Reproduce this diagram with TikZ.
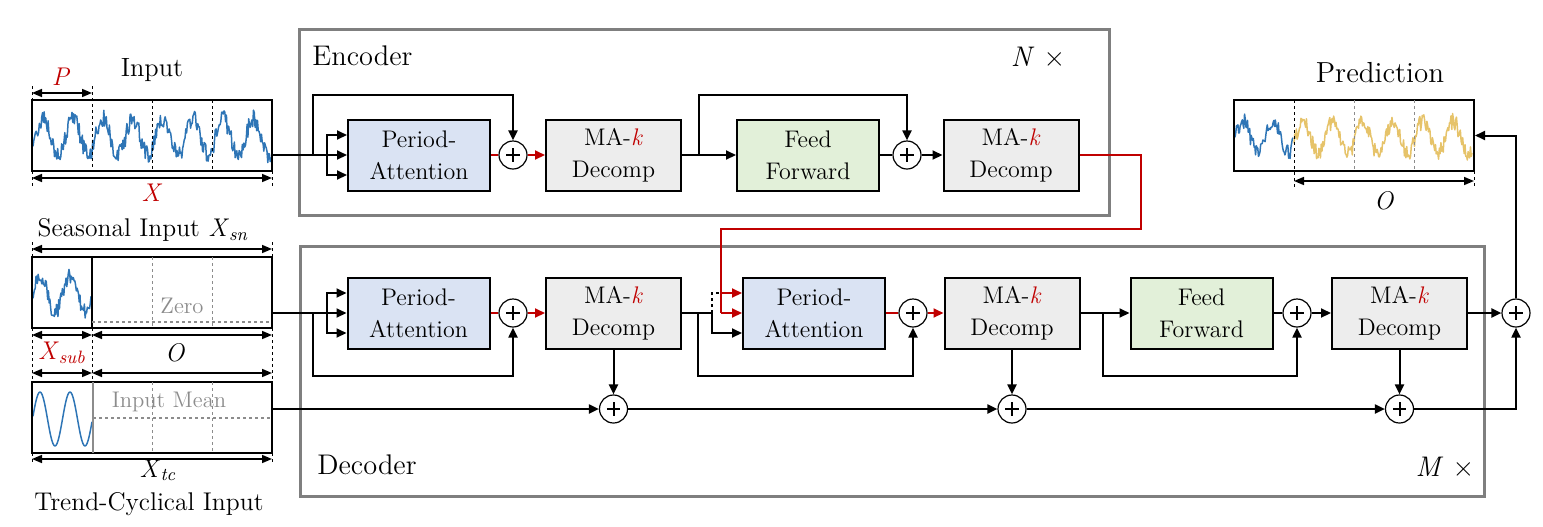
\documentclass[tikz,border=0pt]{standalone}
\usepackage{fontspec}
\usetikzlibrary{arrows.meta,calc}
\definecolor{myred}{HTML}{C00000}
\definecolor{pafill}{HTML}{DAE3F3}
\definecolor{mafill}{HTML}{EDEDED}
\definecolor{fffill}{HTML}{E2F0D9}
\definecolor{framegray}{HTML}{7F7F7F}
\definecolor{wblue}{HTML}{2E75B6}
\definecolor{wyellow}{HTML}{E6C36A}
\definecolor{txtgray}{HTML}{8C8C8C}
\begin{document}
\begin{tikzpicture}[x=0.5pt,y=-0.5pt,
  every node/.style={font=\rmfamily},
  >={Triangle[length=5pt,width=4.5pt]},
  conn/.style={line width=1pt},
  rconn/.style={line width=1pt, draw=myred, fill=myred},
  blk/.style={draw, line width=1pt, minimum height=35.5pt, align=center, inner sep=0pt, font=\rmfamily\fontsize{12}{16}\selectfont},
  pabox/.style={blk, fill=pafill, minimum width=71pt},
  mabox/.style={blk, fill=mafill, minimum width=67.5pt},
  ffbox/.style={blk, fill=fffill, minimum width=71pt},
  plus/.style={circle, draw, line width=0.6pt, fill=white, minimum size=14pt, inner sep=0pt,
    path picture={\draw[line width=1pt] ([xshift=-3.3pt]path picture bounding box.center) -- ([xshift=3.3pt]path picture bounding box.center);
                  \draw[line width=1pt] ([yshift=-3.3pt]path picture bounding box.center) -- ([yshift=3.3pt]path picture bounding box.center);}},
  frame/.style={draw=framegray, line width=1.5pt},
  series/.style={draw, line width=1pt, minimum width=120pt, minimum height=35.5pt, inner sep=0pt},
  dimarr/.style={{Triangle[length=5pt,width=4pt]}-{Triangle[length=5pt,width=4pt]}, line width=0.8pt},
  tick/.style={line width=0.5pt, dash pattern=on 1.5pt off 1.5pt},
  gtick/.style={tick, draw=txtgray},
  wave/.style={line width=0.75pt, draw=wblue, line join=round},
  lbl/.style={font=\rmfamily\fontsize{12.8}{15}\selectfont, inner sep=0pt},
  big/.style={font=\rmfamily\fontsize{14.2}{17}\selectfont, inner sep=0pt},
  glbl/.style={font=\rmfamily\fontsize{11.3}{13}\selectfont, text=txtgray, inner sep=0pt},
]
\useasboundingbox (0,0) rectangle (1543,526);

% frames
\draw[frame] (299,29) rectangle (1109,215);
\draw[frame] (300,246) rectangle (1484,496);
\node[big, anchor=west] (enctxt) at (312,56) {Encoder};
\node[big] (ntxt) at (1038,57) {\textit{N} ×};
\node[big, anchor=west] (dectxt) at (317,465) {Decoder};
\node[big] (mtxt) at (1445,467) {\textit{M} ×};

% waves
\pgfmathsetseed{11}
\draw[wave] plot[domain=33:271,samples=300] (\x,{137-18*cos(12*(\x-43))+9*rand});
\draw[wave] plot[domain=33:91,samples=80] (\x,{294-18*cos(12*(\x-40))+8*rand});
\draw[wave] plot[domain=1235:1293,samples=80] (\x,{137-16*cos(12*(\x-1243))+8*rand});
\draw[wave, draw=wyellow] plot[domain=1294:1472,samples=230] (\x,{137-16*cos(12*(\x-1243))+8*rand});
\draw[wave] plot[domain=33:92,samples=60,smooth] (\x,{419-27*cos(12*(\x-40))});

% series boxes
\node[series] (inbox) at (152,135.5) {};
\node[series] (sbox) at (152,292.5) {};
\node[series] (tbox) at (152,417.5) {};
\node[series] (pbox) at (1354,135.5) {};

% input annotations
\node[lbl, font=\rmfamily\fontsize{13.2}{16}\selectfont] (intxt) at (152,70) {Input};
\node[lbl, text=myred] (ptxt) at (61,77) {\textit{P}};
\draw[tick] (32,86) -- (32,100);
\draw[tick] (32,171) -- (32,186);
\draw[tick] (92,86) -- (92,171);
\draw[tick] (152,100) -- (152,171);
\draw[tick] (212,100) -- (212,171);
\draw[tick] (272,171) -- (272,186);
\draw[dimarr] (32,93) -- (92,93);
\draw[dimarr] (32,178) -- (272,178);
\node[lbl, text=myred] (xtxt) at (152,193) {\textit{X}};

% seasonal
\node[lbl] (stxt) at (143,230) {Seasonal Input \textit{X}\textsubscript{\textit{sn}}};
\draw[tick] (32,242) -- (32,257);
\draw[tick] (272,242) -- (272,257);
\draw[dimarr] (32,249) -- (272,249);
\draw[line width=0.6pt] (92,257) -- (92,328);
\draw[gtick] (152,257) -- (152,328);
\draw[gtick] (212,257) -- (212,328);
\draw[gtick, line width=0.6pt] (92,322) -- (271,322);
\node[glbl] (zero) at (182,306) {Zero};

% middle dims
\draw[tick] (32,328) -- (32,382);
\draw[tick] (92,328) -- (92,382);
\draw[tick] (272,328) -- (272,382);
\draw[dimarr] (32,335) -- (92,335);
\draw[dimarr] (92,335) -- (272,335);
\draw[dimarr] (32,373) -- (92,373);
\draw[dimarr] (92,373) -- (272,373);
\node[lbl, text=myred] (xsub) at (62,353) {\textit{X}\textsubscript{\textit{sub}}};
\node[lbl] (otxt) at (175,353) {\textit{O}};

% trend
\draw[line width=0.6pt, txtgray] (93,382) -- (93,453);
\draw[gtick] (152,382) -- (152,453);
\draw[gtick] (212,382) -- (212,453);
\draw[gtick, line width=0.6pt] (93,418) -- (271,418);
\node[glbl] (mean) at (169,402) {Input Mean};
\draw[tick] (32,453) -- (32,465);
\draw[tick] (272,453) -- (272,465);
\draw[dimarr] (32,459) -- (272,459);
\node[lbl, anchor=base] (xtc) at (158,477) {\textit{X}\textsubscript{\textit{tc}}};
\node[lbl, anchor=base] (ttxt) at (149,510) {Trend-Cyclical Input};

% prediction
\node[lbl, font=\rmfamily\fontsize{14.5}{17}\selectfont] (predtxt) at (1380,73) {Prediction};
\draw[tick] (1294,100) -- (1294,188);
\draw[gtick] (1354,100) -- (1354,171);
\draw[gtick] (1414,100) -- (1414,171);
\draw[tick] (1474,171) -- (1474,188);
\draw[dimarr] (1294,181) -- (1474,181);
\node[lbl] (o2txt) at (1384,201) {\textit{O}};

% encoder blocks
\node[pabox] (epa) at (419,155) {Period-\\Attention};
\node[plus] (eplus1) at (513,155) {};
\node[mabox] (ema1) at (613.5,155) {MA-\textcolor{myred}{\textit{k}}\\Decomp};
\node[ffbox] (eff) at (808,155) {Feed\\Forward};
\node[plus] (eplus2) at (907,155) {};
\node[mabox] (ema2) at (1011,155) {MA-\textcolor{myred}{\textit{k}}\\Decomp};

% decoder blocks
\node[pabox] (dpa1) at (418.5,313) {Period-\\Attention};
\node[plus] (dplus1) at (513,313) {};
\node[mabox] (dma1) at (613.5,313) {MA-\textcolor{myred}{\textit{k}}\\Decomp};
\node[pabox] (dpa2) at (814,313) {Period-\\Attention};
\node[plus] (dplus2) at (913,313) {};
\node[mabox] (dma2) at (1012,313) {MA-\textcolor{myred}{\textit{k}}\\Decomp};
\node[ffbox] (dff) at (1201.5,313) {Feed\\Forward};
\node[plus] (dplus3) at (1297,313) {};
\node[mabox] (dma3) at (1399.5,313) {MA-\textcolor{myred}{\textit{k}}\\Decomp};
\node[plus] (dplus4) at (1516,313) {};
\node[plus] (tplus1) at (613.5,409) {};
\node[plus] (tplus2) at (1012,409) {};
\node[plus] (tplus3) at (1399.5,409) {};

% encoder connectors
\coordinate (ebr) at (327,155);
\coordinate (esk) at (313,155);
\draw[conn] (inbox.east |- epa) -- (ebr);
\draw[conn,->] (ebr) |- ($(epa.west)+(0,-20)$);
\draw[conn,->] (ebr) -- (epa.west);
\draw[conn,->] (ebr) |- ($(epa.west)+(0,20)$);
\draw[conn,->] (esk) -- ++(0,-60) -| (eplus1.north);
\draw[rconn] (epa.east) -- (eplus1.west);
\draw[rconn,->] (eplus1.east) -- (ema1.west);
\draw[conn,->] (ema1.east) -- (eff.west);
\draw[conn,->] ($(ema1.east)+(17,0)$) -- ++(0,-60) -| (eplus2.north);
\draw[conn] (eff.east) -- (eplus2.west);
\draw[conn,->] (eplus2.east) -- (ema2.west);

% red cross connection
\coordinate (rdn) at (721,313);
\coordinate (rtop) at (721,293);
\draw[rconn, fill=none] (ema2.east) -| ++(61,74) -| (rdn);
\draw[rconn,->] (rdn) -- (dpa2.west);
\draw[rconn,->] (rtop) -- ($(dpa2.west)+(0,-20)$);

% decoder connectors
\coordinate (dbr) at (327,313);
\coordinate (dsk) at (313,313);
\draw[conn] (sbox.east |- dpa1) -- (dbr);
\draw[conn,->] (dbr) |- ($(dpa1.west)+(0,-20)$);
\draw[conn,->] (dbr) -- (dpa1.west);
\draw[conn,->] (dbr) |- ($(dpa1.west)+(0,20)$);
\draw[conn,->] (dsk) -- ++(0,63) -| (dplus1.south);
\draw[rconn] (dpa1.east) -- (dplus1.west);
\draw[rconn,->] (dplus1.east) -- (dma1.west);
\draw[conn,->] (dma1.south) -- (tplus1.north);
\coordinate (dbr2) at (712,313);
\draw[conn] (dma1.east) -- (dbr2);
\draw[conn,->] (dbr2) |- ($(dpa2.west)+(0,20)$);
\draw[tick, line width=0.6pt] (dbr2) |- (rtop);
\draw[conn,->] ($(dma1.east)+(16,0)$) -- ++(0,63) -| (dplus2.south);
\draw[rconn] (dpa2.east) -- (dplus2.west);
\draw[rconn,->] (dplus2.east) -- (dma2.west);
\draw[conn,->] (dma2.south) -- (tplus2.north);
\draw[conn,->] (dma2.east) -- (dff.west);
\draw[conn,->] ($(dma2.east)+(22,0)$) -- ++(0,63) -| (dplus3.south);
\draw[conn] (dff.east) -- (dplus3.west);
\draw[conn,->] (dplus3.east) -- (dma3.west);
\draw[conn,->] (dma3.south) -- (tplus3.north);
\draw[conn,->] (dma3.east) -- (dplus4.west);
\draw[conn,->] (tbox.east |- tplus1) -- (tplus1.west);
\draw[conn,->] (tplus1.east) -- (tplus2.west);
\draw[conn,->] (tplus2.east) -- (tplus3.west);
\draw[conn,->] (tplus3.east) -| (dplus4.south);
\draw[conn,->] (dplus4.north) |- (pbox.east);
\end{tikzpicture}
\end{document}
